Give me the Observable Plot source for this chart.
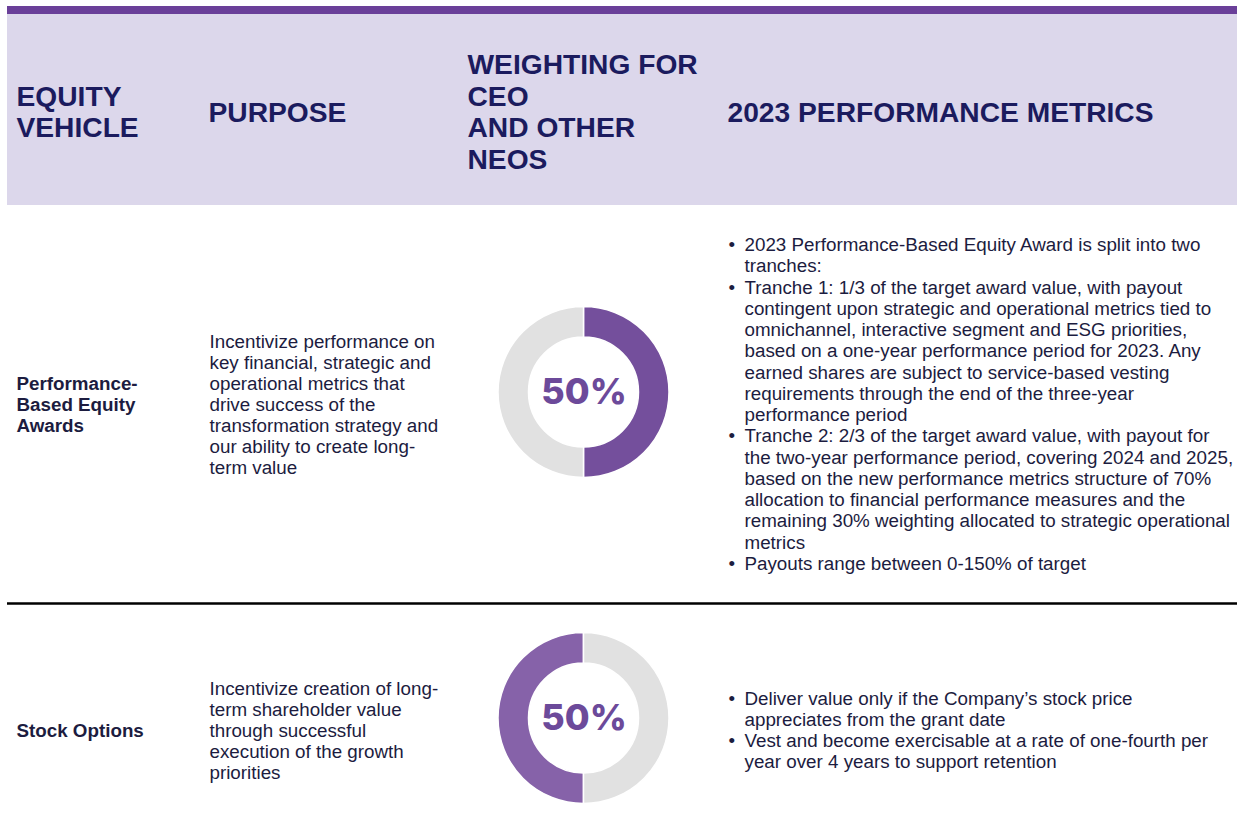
<!DOCTYPE html>
<html><head><meta charset="utf-8">
<script src="https://cdn.jsdelivr.net/npm/d3@7"></script>
<script src="https://cdn.jsdelivr.net/npm/@observablehq/plot@0.6"></script>
<style>html,body{margin:0;padding:0;background:#fff}</style>
</head><body><div id="chart"></div>
<script>
// ---- data ----
const headers = ["EQUITY\nVEHICLE", "PURPOSE", "WEIGHTING FOR\nCEO\nAND OTHER\nNEOS", "2023 PERFORMANCE METRICS"];
const vehicles = ["Performance-\nBased Equity\nAwards", "Stock Options"];
const purposes = [
  "Incentivize performance on\nkey financial, strategic and\noperational metrics that\ndrive success of the\ntransformation strategy and\nour ability to create long-\nterm value",
  "Incentivize creation of long-\nterm shareholder value\nthrough successful\nexecution of the growth\npriorities"
];
const weights = [50, 50];
const metrics = [
  [
    ["2023 Performance-Based Equity Award is split into two", "tranches:"],
    ["Tranche 1: 1/3 of the target award value, with payout", "contingent upon strategic and operational metrics tied to", "omnichannel, interactive segment and ESG priorities,", "based on a one-year performance period for 2023. Any", "earned shares are subject to service-based vesting", "requirements through the end of the three-year", "performance period"],
    ["Tranche 2: 2/3 of the target award value, with payout for", "the two-year performance period, covering 2024 and 2025,", "based on the new performance metrics structure of 70%", "allocation to financial performance measures and the", "remaining 30% weighting allocated to strategic operational", "metrics"],
    ["Payouts range between 0-150% of target"]
  ],
  [
    ["Deliver value only if the Company\u2019s stock price", "appreciates from the grant date"],
    ["Vest and become exercisable at a rate of one-fourth per", "year over 4 years to support retention"]
  ]
];

// ---- layout ----
const W = 1237, H = 840;
const L = {
  left: 7, barTop: 6, barBottom: 14, headBottom: 205, headY: 111,
  headX: [16, 208, 467, 727],
  rowSep: 603, rowCenters: [404, 730],
  vehicleX: 16, purposeX: 209, bulletX: 728, metricX: 744,
  donutX: 583.5, donutDy: -12, rOuter: 85.5, rInner: 55,
  donutStart: [0, Math.PI],
  pitch: 21.25
};
const C = {
  bar: "#6a3f99", band: "#dcd7eb", head: "#1b1b5e", body: "#1c1c40",
  donut: ["#744f9c", "#8662a9"], rest: "#e1e1e1", pct: "#6c4a9a"
};
const SANS = "Liberation Sans, Arial, Helvetica, sans-serif";
const FS = 18.8;

// metric lines table
const metricLines = [];
metrics.forEach((bullets, r) => {
  const n = d3.sum(bullets, b => b.length);
  let k = 0;
  bullets.forEach(b => b.forEach((t, j) => metricLines.push({row: r, k: k++, n, text: t, first: j === 0})));
});
const lineY = d => L.rowCenters[d.row] + (d.k - (d.n - 1) / 2) * L.pitch;

// donut render mark
function donuts(index, scales) {
  const sx = scales.x, sy = scales.y;
  const g = d3.create("svg:g");
  const r0 = Math.abs(sx(L.rInner) - sx(0)), r1 = Math.abs(sx(L.rOuter) - sx(0));
  const arc = d3.arc().innerRadius(r0).outerRadius(r1);
  weights.forEach((w, i) => {
    const cx = sx(L.donutX), cy = sy(L.rowCenters[i] + L.donutDy);
    const arcs = d3.pie().sort(null).startAngle(L.donutStart[i]).endAngle(L.donutStart[i] + 2 * Math.PI)([w, 100 - w]);
    g.append("g").attr("transform", `translate(${cx},${cy})`)
      .selectAll("path").data(arcs).join("path")
      .attr("d", arc)
      .attr("fill", (d, j) => j === 0 ? C.donut[i] : C.rest)
      .attr("stroke", "#fff").attr("stroke-width", 1.5);
  });
  return g.node();
}

const plot = Plot.plot({
  width: W, height: H, margin: 0,
  x: {domain: [0, W], range: [0, W], axis: null},
  y: {domain: [0, H], range: [0, H], axis: null},
  style: {background: "#fff", fontFamily: SANS},
  marks: [
    Plot.rect([0], {x1: L.left, x2: W, y1: L.barTop, y2: L.barBottom + 0.5, fill: C.bar}),
    Plot.rect([0], {x1: L.left, x2: W, y1: L.barBottom, y2: L.headBottom, fill: C.band}),
    Plot.text(headers, {
      x: (d, i) => L.headX[i], y: L.headY, text: d => d,
      textAnchor: "start", lineAnchor: "middle", lineHeight: 1.12,
      fontSize: 28.2, fontWeight: "bold", fontFamily: SANS, fill: C.head
    }),
    Plot.ruleY([L.rowSep], {x1: L.left, x2: W, stroke: "#000", strokeWidth: 2.5}),
    Plot.text(vehicles, {
      x: L.vehicleX, y: (d, i) => L.rowCenters[i], text: d => d,
      textAnchor: "start", lineAnchor: "middle", lineHeight: 21 / FS,
      fontSize: FS, fontWeight: "bold", fontFamily: SANS, fill: C.body
    }),
    Plot.text(purposes, {
      x: L.purposeX, y: (d, i) => L.rowCenters[i], text: d => d,
      textAnchor: "start", lineAnchor: "middle", lineHeight: 21 / FS,
      fontSize: FS, fontFamily: SANS, fill: C.body
    }),
    donuts,
    Plot.text(weights, {
      x: L.donutX, y: (d, i) => L.rowCenters[i] + L.donutDy, text: d => d + "%",
      textAnchor: "middle", lineAnchor: "middle",
      fontSize: 36, fontWeight: 800, fontFamily: "Inter, Lato, sans-serif", fill: C.pct
    }),
    Plot.text(metricLines.filter(d => d.first), {
      x: L.bulletX, y: lineY, text: () => "\u2022",
      textAnchor: "start", lineAnchor: "middle", fontSize: FS, fontFamily: SANS, fill: C.body
    }),
    Plot.text(metricLines, {
      x: L.metricX, y: lineY, text: "text",
      textAnchor: "start", lineAnchor: "middle", fontSize: FS, fontFamily: SANS, fill: C.body
    })
  ]
});
document.getElementById("chart").append(plot);
</script>
</body></html>
